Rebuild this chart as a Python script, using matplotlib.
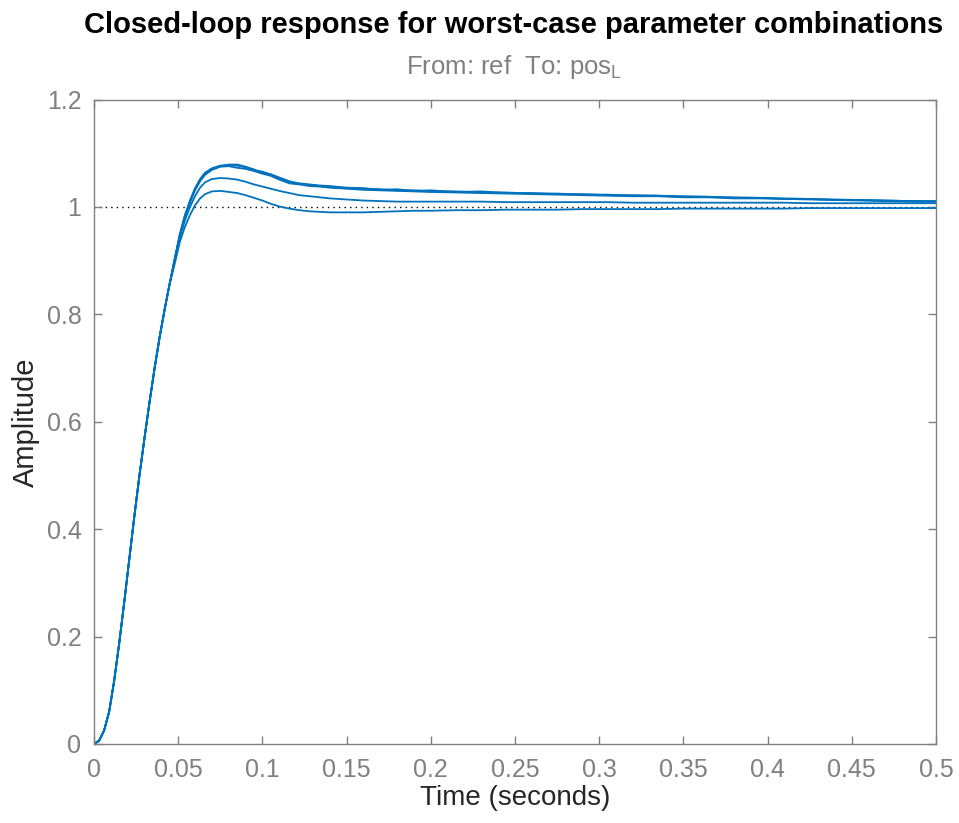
import matplotlib
matplotlib.use("Agg")
import matplotlib.pyplot as plt

# ── data ──
t_rise = [0, 0.003, 0.006, 0.009, 0.012, 0.015, 0.018, 0.021, 0.024, 0.027,
          0.030, 0.033, 0.036, 0.039, 0.042, 0.045]
amp_rise = [0, 0.006, 0.025, 0.060, 0.118, 0.188, 0.265, 0.345, 0.425, 0.500,
            0.570, 0.637, 0.700, 0.758, 0.810, 0.858]

t_tail = [0.048, 0.051, 0.054, 0.057, 0.060, 0.063, 0.066, 0.070, 0.075, 0.080,
          0.085, 0.090, 0.095, 0.100, 0.105, 0.110, 0.116, 0.122, 0.128, 0.134,
          0.140, 0.150, 0.160, 0.170, 0.180, 0.190, 0.200, 0.215, 0.230, 0.245,
          0.260, 0.275, 0.290, 0.305, 0.320, 0.335, 0.350, 0.365, 0.380, 0.395,
          0.410, 0.425, 0.440, 0.455, 0.470, 0.485, 0.500]

top_a = [0.905, 0.950, 0.985, 1.012, 1.035, 1.052, 1.064, 1.072, 1.077, 1.078,
         1.077, 1.074, 1.068, 1.066, 1.060, 1.052, 1.047, 1.044, 1.042, 1.040,
         1.039, 1.036, 1.035, 1.032, 1.033, 1.030, 1.031, 1.028, 1.029, 1.026,
         1.026, 1.024, 1.024, 1.022, 1.022, 1.021, 1.020, 1.019, 1.018, 1.017,
         1.016, 1.015, 1.014, 1.013, 1.012, 1.011, 1.011]
top_b = [0.903, 0.947, 0.982, 1.008, 1.031, 1.048, 1.060, 1.069, 1.075, 1.076,
         1.073, 1.071, 1.067, 1.062, 1.058, 1.051, 1.044, 1.042, 1.039, 1.038,
         1.036, 1.034, 1.032, 1.031, 1.030, 1.029, 1.028, 1.027, 1.026, 1.025,
         1.024, 1.023, 1.022, 1.021, 1.020, 1.020, 1.018, 1.018, 1.016, 1.016,
         1.015, 1.014, 1.013, 1.012, 1.011, 1.010, 1.010]
top_c = [0.904, 0.948, 0.983, 1.010, 1.033, 1.050, 1.062, 1.071, 1.076, 1.079,
         1.079, 1.075, 1.070, 1.064, 1.061, 1.055, 1.048, 1.043, 1.041, 1.039,
         1.037, 1.035, 1.034, 1.033, 1.031, 1.031, 1.029, 1.029, 1.027, 1.027,
         1.025, 1.025, 1.023, 1.023, 1.021, 1.021, 1.019, 1.019, 1.017, 1.017,
         1.015, 1.015, 1.013, 1.013, 1.012, 1.011, 1.010]
mid = [0.900, 0.943, 0.975, 1.000, 1.020, 1.036, 1.046, 1.052, 1.054, 1.053,
       1.051, 1.047, 1.042, 1.038, 1.034, 1.030, 1.026, 1.022, 1.020, 1.018,
       1.016, 1.014, 1.012, 1.011, 1.010, 1.010, 1.010, 1.010, 1.010, 1.009,
       1.009, 1.009, 1.009, 1.009, 1.008, 1.008, 1.008, 1.008, 1.008, 1.008,
       1.008, 1.007, 1.007, 1.007, 1.007, 1.007, 1.007]
low = [0.895, 0.935, 0.963, 0.985, 1.003, 1.016, 1.024, 1.029, 1.030, 1.028,
       1.026, 1.022, 1.017, 1.012, 1.006, 1.001, 0.997, 0.994, 0.992, 0.991,
       0.990, 0.990, 0.990, 0.991, 0.992, 0.993, 0.993, 0.994, 0.994, 0.995,
       0.995, 0.995, 0.996, 0.996, 0.996, 0.996, 0.997, 0.997, 0.997, 0.997,
       0.997, 0.998, 0.998, 0.998, 0.998, 0.998, 0.998]

x_ticks = [0, 0.05, 0.1, 0.15, 0.2, 0.25, 0.3, 0.35, 0.4, 0.45, 0.5]
x_tick_labels = ["0", "0.05", "0.1", "0.15", "0.2", "0.25", "0.3", "0.35", "0.4", "0.45", "0.5"]
y_ticks = [0, 0.2, 0.4, 0.6, 0.8, 1.0, 1.2]
y_tick_labels = ["0", "0.2", "0.4", "0.6", "0.8", "1", "1.2"]

plt.rcParams["font.family"] = ["Liberation Sans", "DejaVu Sans"]

fig = plt.figure(figsize=(9.59, 8.23), dpi=100)
ax = fig.add_axes([0.098, 0.096, 0.878, 0.783])

line_color = "#0072BD"
for curve in (low, mid, top_b, top_c, top_a):
    ax.plot(t_rise + t_tail, amp_rise + curve, color=line_color, lw=1.3)

ax.axhline(1.0, color="black", lw=1.0, linestyle=(0, (1, 3)), zorder=0)

ax.set_xlim(0, 0.5)
ax.set_ylim(0, 1.2)
ax.set_xticks(x_ticks)
ax.set_xticklabels(x_tick_labels)
ax.set_yticks(y_ticks)
ax.set_yticklabels(y_tick_labels)

gray = "#808080"
for spine in ax.spines.values():
    spine.set_color(gray)
    spine.set_linewidth(1.0)
ax.tick_params(direction="in", length=6, width=1.0, colors=gray,
               labelcolor=gray, labelsize=18, top=True, right=True)
ax.tick_params(axis="x", pad=10)
ax.tick_params(axis="y", pad=9)

ax.set_xlabel("Time (seconds)", fontsize=20, color="#262626", labelpad=2)
ax.set_ylabel("Amplitude", fontsize=21, color="#262626", labelpad=5)

fig.text(0.536, 0.970, "Closed-loop response for worst-case parameter combinations",
         ha="center", va="center", fontsize=21, fontweight="bold", color="black")
fig.text(0.536, 0.918, r"From: ref  To: pos$_\mathregular{L}$",
         ha="center", va="center", fontsize=18.5, color=gray)

fig.savefig("out.png", dpi=100)
